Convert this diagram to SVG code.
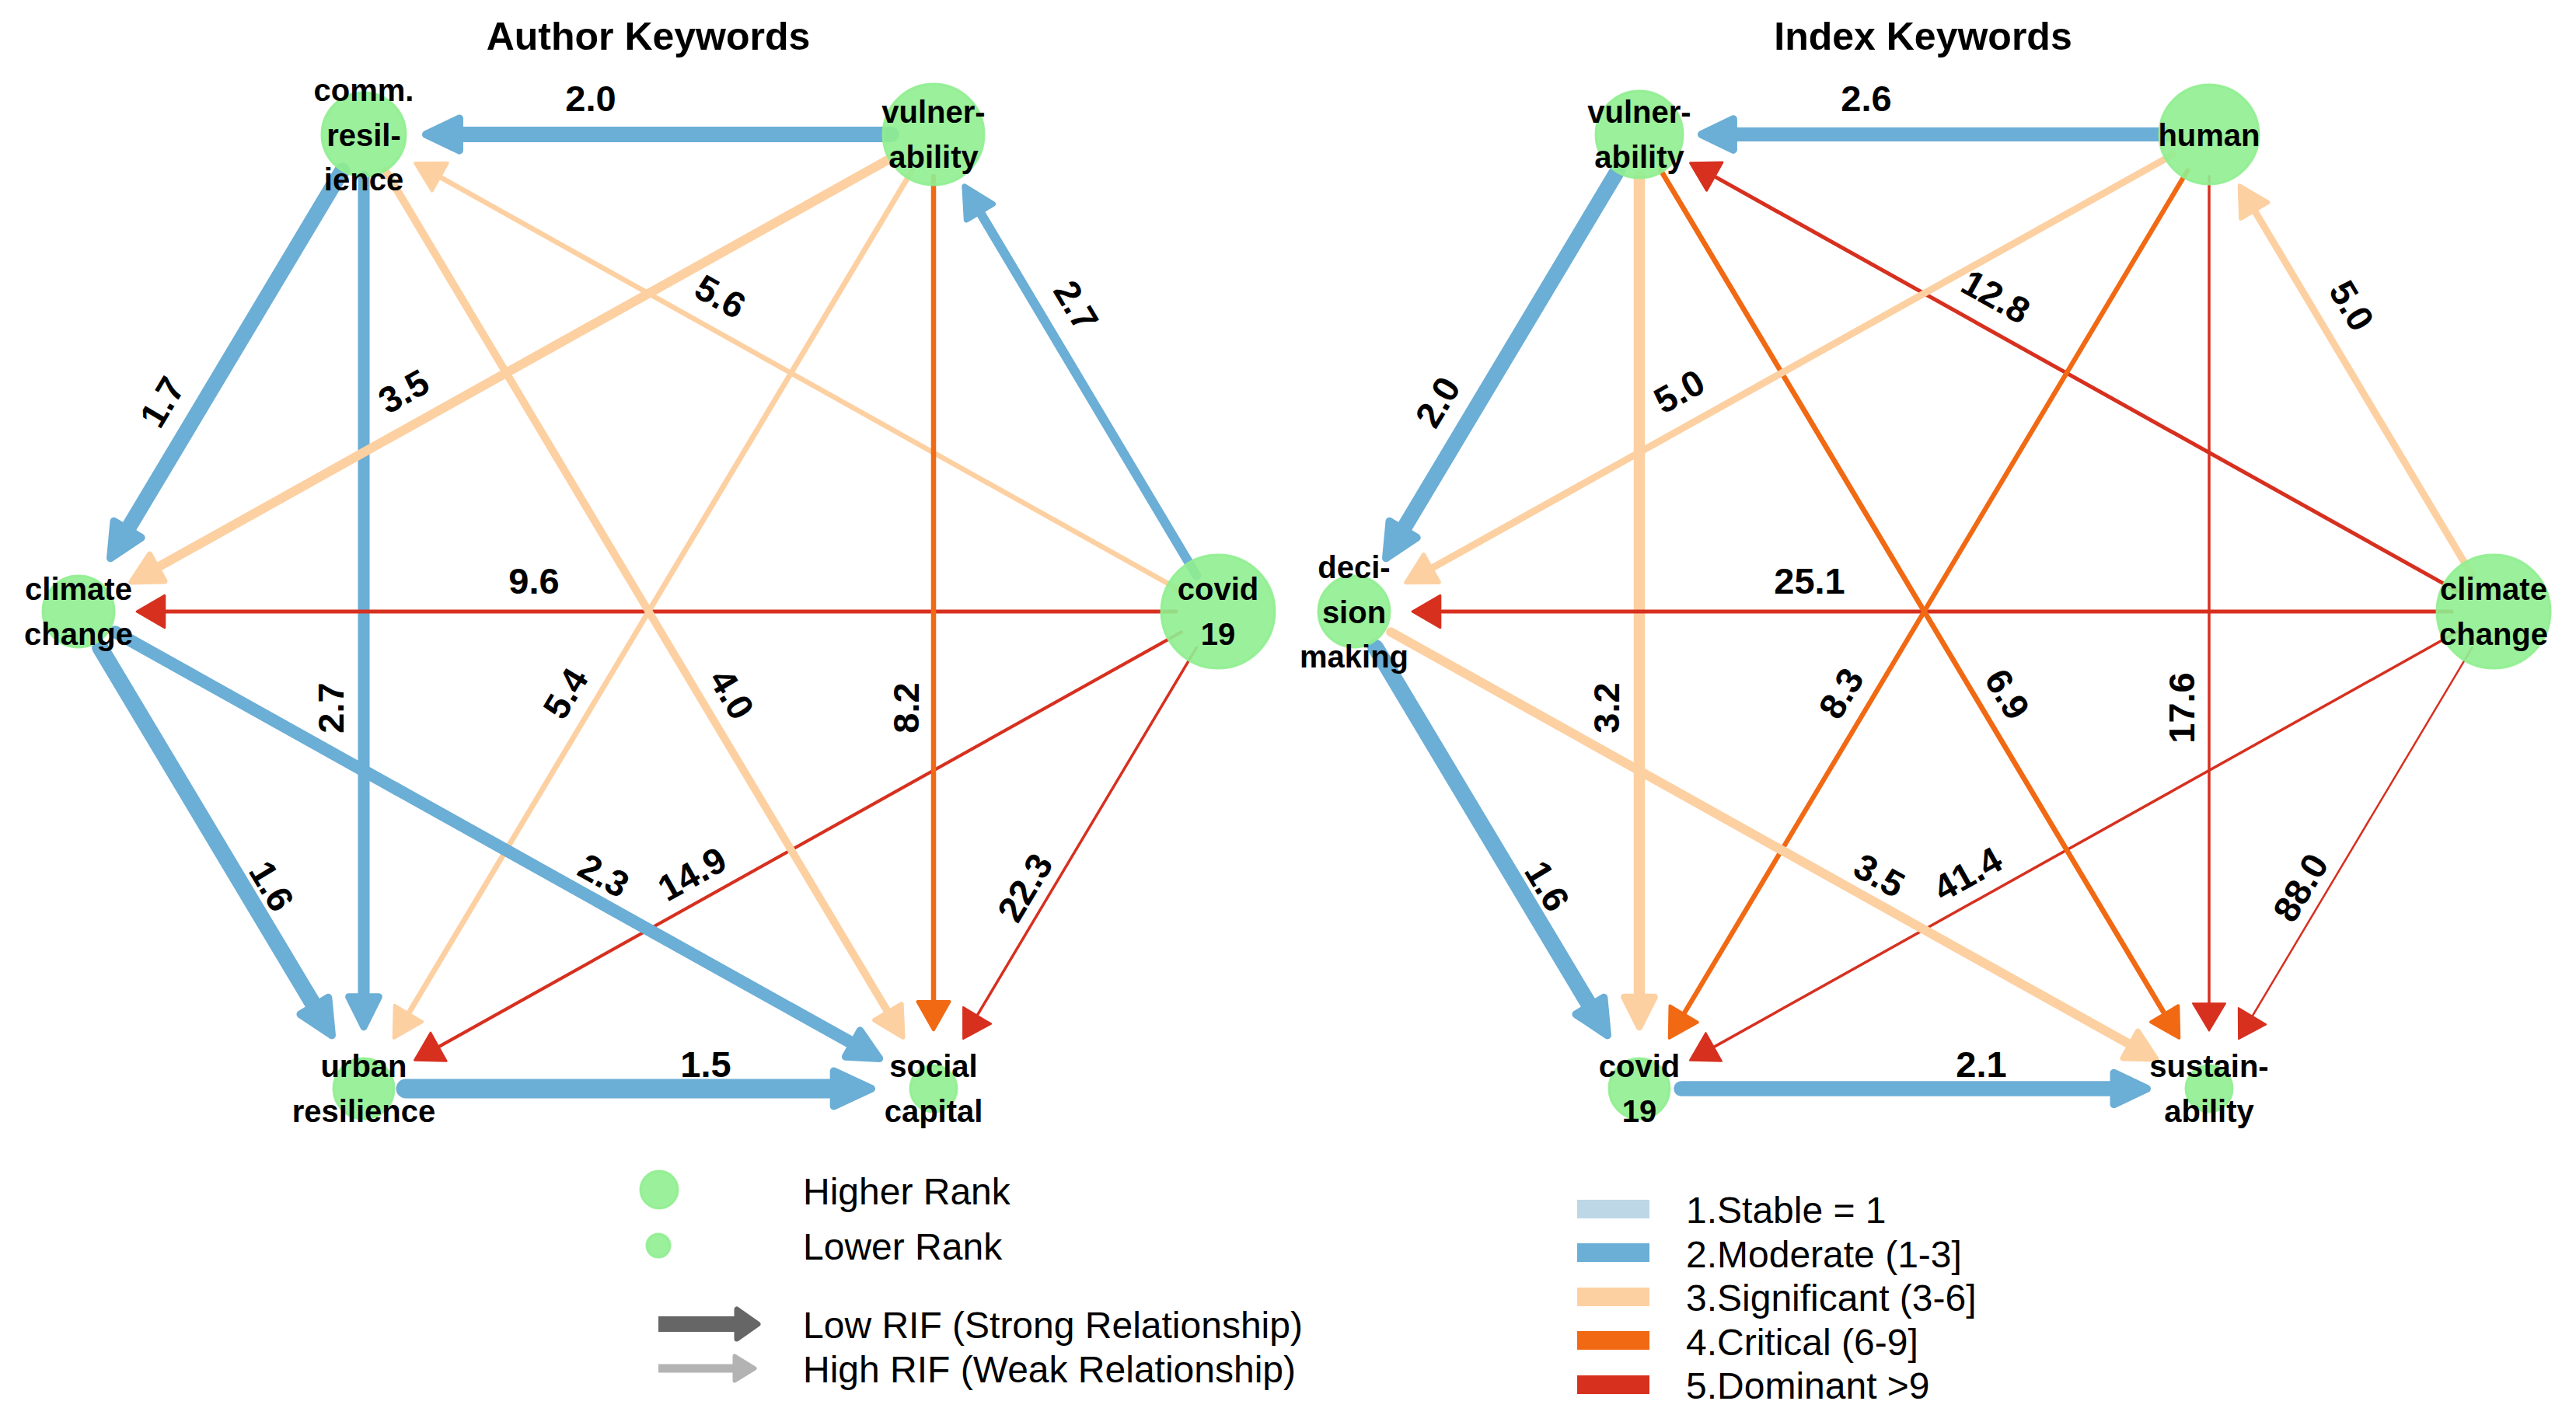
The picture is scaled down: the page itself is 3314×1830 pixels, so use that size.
<svg xmlns="http://www.w3.org/2000/svg" width="3314" height="1830" viewBox="0 0 3314 1830">
<style>
.title{font-family:"Liberation Sans",Arial,sans-serif;font-weight:bold;font-size:50px;text-anchor:middle;fill:#000}
.nl{font-family:"Liberation Sans",Arial,sans-serif;font-weight:bold;font-size:40px;text-anchor:middle;fill:#000}
.el{font-family:"Liberation Sans",Arial,sans-serif;font-weight:bold;font-size:47px;text-anchor:middle;fill:#000}
.lg{font-family:"Liberation Sans",Arial,sans-serif;font-size:48px;fill:#000}
.node{fill:#90EE90;fill-opacity:0.9;stroke:#90EE90;stroke-opacity:0.9;stroke-width:3}
.e line{fill:none;stroke-linecap:round}
.e path{stroke-linejoin:round}
.b line{stroke:#6BAED6}.b path{fill:#6BAED6;stroke:#6BAED6}
.p line{stroke:#FDD0A2}.p path{fill:#FDD0A2;stroke:#FDD0A2}
.o line{stroke:#F16913}.o path{fill:#F16913;stroke:#F16913}
.r line{stroke:#D7301F}.r path{fill:#D7301F;stroke:#D7301F}
</style>
<rect x="0" y="0" width="3314" height="1830" fill="#fff"/>

<!-- ============ LEFT PANEL: Author Keywords ============ -->
<g id="panel-author">
<text class="title" x="834" y="64">Author Keywords</text>
<g id="connectors-author">
<g class="e b" transform="translate(1201,173) rotate(180)"><line x1="54" y1="0" x2="612" y2="0" stroke-width="20"/><path transform="translate(660,0)" d="M-7,0 L-50,-20.5 L-50,20.5 Z" stroke-width="10"/></g>
<g class="e b" transform="translate(468,173) rotate(120.87)"><line x1="54" y1="0" x2="594" y2="0" stroke-width="20"/><path transform="translate(642.3,0)" d="M-7,0 L-50,-20.5 L-50,20.5 Z" stroke-width="10"/></g>
<g class="e p" transform="translate(1567,787) rotate(-150.81)"><line x1="54" y1="0" x2="1149" y2="0" stroke-width="6.5"/><path transform="translate(1185.9,0)" d="M-2.8,0 L-39,-20.5 L-39,20.5 Z" stroke-width="4"/></g>
<g class="e b" transform="translate(468,173) rotate(90)"><line x1="54" y1="0" x2="1112" y2="0" stroke-width="15"/><path transform="translate(1155,0)" d="M-6.3,0 L-45.3,-19.4 L-45.3,19.4 Z" stroke-width="9"/></g>
<g class="e r" transform="translate(1567,787) rotate(180)"><line x1="54" y1="0" x2="1357" y2="0" stroke-width="5"/><path transform="translate(1393,0)" d="M-2.1,0 L-37.8,-20.8 L-37.8,20.8 Z" stroke-width="3"/></g>
<g class="e r" transform="translate(1567,787) rotate(150.81)"><line x1="54" y1="0" x2="1151" y2="0" stroke-width="4.2"/><path transform="translate(1185.9,0)" d="M-1.8,0 L-37.2,-21 L-37.2,21 Z" stroke-width="2.5"/></g>
<g class="e r" transform="translate(1567,787) rotate(120.80)"><line x1="54" y1="0" x2="607" y2="0" stroke-width="3.5"/><path transform="translate(641.8,0)" d="M-1.5,0 L-36.7,-21 L-36.7,21 Z" stroke-width="2.1"/></g>
<g class="e o" transform="translate(1201,173) rotate(90)"><line x1="54" y1="0" x2="1118" y2="0" stroke-width="6.5"/><path transform="translate(1155,0)" d="M-2.8,0 L-39,-20.5 L-39,20.5 Z" stroke-width="4"/></g>
<g class="e p" transform="translate(1201,173) rotate(120.84)"><line x1="54" y1="0" x2="1320" y2="0" stroke-width="7"/><path transform="translate(1357.1,0)" d="M-2.9,0 L-39.3,-20.5 L-39.3,20.5 Z" stroke-width="4.2"/></g>
<g class="e p" transform="translate(468,173) rotate(59.16)"><line x1="54" y1="0" x2="1318" y2="0" stroke-width="10"/><path transform="translate(1357.1,0)" d="M-4.2,0 L-41.5,-20.1 L-41.5,20.1 Z" stroke-width="6"/></g>
<g class="e p" transform="translate(1201,173) rotate(150.83)"><line x1="54" y1="0" x2="1146" y2="0" stroke-width="12"/><path transform="translate(1186.8,0)" d="M-5,0 L-43,-19.8 L-43,19.8 Z" stroke-width="7.2"/></g>
<g class="e b" transform="translate(1567,787) rotate(-120.80)"><line x1="54" y1="0" x2="601" y2="0" stroke-width="12"/><path transform="translate(641.8,0)" d="M-5,0 L-43,-19.8 L-43,19.8 Z" stroke-width="7.2"/></g>
<g class="e b" transform="translate(101,787) rotate(59.13)"><line x1="54" y1="0" x2="593" y2="0" stroke-width="21"/><path transform="translate(642.3,0)" d="M-7,0 L-51,-20.9 L-51,20.9 Z" stroke-width="10"/></g>
<g class="e b" transform="translate(101,787) rotate(29.17)"><line x1="54" y1="0" x2="1143" y2="0" stroke-width="16"/><path transform="translate(1186.8,0)" d="M-6.7,0 L-46,-19.3 L-46,19.3 Z" stroke-width="9.6"/></g>
<g class="e b" transform="translate(468,1401)"><line x1="54" y1="0" x2="607" y2="0" stroke-width="25"/><path transform="translate(660,0)" d="M-7,0 L-55.3,-22.5 L-55.3,22.5 Z" stroke-width="10"/></g>
</g>
<g id="edge-labels-author">
<text class="el" transform="translate(760,126)" y="17">2.0</text>
<text class="el" transform="translate(208,517) rotate(-59.1)" y="17">1.7</text>
<text class="el" transform="translate(519,503) rotate(-29.2)" y="17">3.5</text>
<text class="el" transform="translate(927,381) rotate(29.2)" y="17">5.6</text>
<text class="el" transform="translate(1385,393) rotate(59.2)" y="17">2.7</text>
<text class="el" transform="translate(687,747)" y="17">9.6</text>
<text class="el" transform="translate(425,911) rotate(-90)" y="17">2.7</text>
<text class="el" transform="translate(727,892) rotate(-59.2)" y="17">5.4</text>
<text class="el" transform="translate(942,893) rotate(59.2)" y="17">4.0</text>
<text class="el" transform="translate(1165,911) rotate(-90)" y="17">8.2</text>
<text class="el" transform="translate(350,1140) rotate(59.1)" y="17">1.6</text>
<text class="el" transform="translate(777,1126) rotate(29.2)" y="17">2.3</text>
<text class="el" transform="translate(890,1124) rotate(-29.2)" y="17">14.9</text>
<text class="el" transform="translate(1318,1142) rotate(-59.2)" y="17">22.3</text>
<text class="el" transform="translate(908,1369)" y="17">1.5</text>
</g>
<g id="a-comm-resilience"><circle class="node" cx="468" cy="173" r="54"/><text class="nl" x="468" y="130">comm.</text><text class="nl" x="468" y="188">resil-</text><text class="nl" x="468" y="245">ience</text></g>
<g id="a-vulnerability"><circle class="node" cx="1201" cy="173" r="65"/><text class="nl" x="1201" y="158">vulner-</text><text class="nl" x="1201" y="216">ability</text></g>
<g id="a-covid-19"><circle class="node" cx="1567" cy="787" r="73"/><text class="nl" x="1567" y="772">covid</text><text class="nl" x="1567" y="830">19</text></g>
<g id="a-social-capital"><circle class="node" cx="1201" cy="1401" r="30"/><text class="nl" x="1201" y="1386">social</text><text class="nl" x="1201" y="1444">capital</text></g>
<g id="a-urban-resilience"><circle class="node" cx="468" cy="1401" r="39"/><text class="nl" x="468" y="1386">urban</text><text class="nl" x="468" y="1444">resilience</text></g>
<g id="a-climate-change"><circle class="node" cx="101" cy="787" r="46"/><text class="nl" x="101" y="772">climate</text><text class="nl" x="101" y="830">change</text></g>
</g>

<!-- ============ RIGHT PANEL: Index Keywords ============ -->
<g id="panel-index" transform="translate(1641,0)">
<text class="title" x="833" y="64">Index Keywords</text>
<g id="connectors-index">
<g class="e b" transform="translate(1201,173) rotate(180)"><line x1="54" y1="0" x2="614" y2="0" stroke-width="18"/><path transform="translate(660,0)" d="M-7,0 L-47.9,-19.7 L-47.9,19.7 Z" stroke-width="10"/></g>
<g class="e b" transform="translate(468,173) rotate(120.87)"><line x1="54" y1="0" x2="594" y2="0" stroke-width="20"/><path transform="translate(642.3,0)" d="M-7,0 L-50,-20.5 L-50,20.5 Z" stroke-width="10"/></g>
<g class="e r" transform="translate(1567,787) rotate(-150.81)"><line x1="54" y1="0" x2="1150" y2="0" stroke-width="5"/><path transform="translate(1185.9,0)" d="M-2.1,0 L-37.8,-20.8 L-37.8,20.8 Z" stroke-width="3"/></g>
<g class="e p" transform="translate(468,173) rotate(90)"><line x1="54" y1="0" x2="1112" y2="0" stroke-width="14.5"/><path transform="translate(1155,0)" d="M-6.1,0 L-44.9,-19.5 L-44.9,19.5 Z" stroke-width="8.7"/></g>
<g class="e r" transform="translate(1567,787) rotate(180)"><line x1="54" y1="0" x2="1357" y2="0" stroke-width="5"/><path transform="translate(1393,0)" d="M-2.1,0 L-37.8,-20.8 L-37.8,20.8 Z" stroke-width="3"/></g>
<g class="e r" transform="translate(1567,787) rotate(150.81)"><line x1="54" y1="0" x2="1151" y2="0" stroke-width="3.5"/><path transform="translate(1185.9,0)" d="M-1.5,0 L-36.7,-21 L-36.7,21 Z" stroke-width="2.1"/></g>
<g class="e r" transform="translate(1567,787) rotate(120.80)"><line x1="54" y1="0" x2="608" y2="0" stroke-width="2.5"/><path transform="translate(641.8,0)" d="M-1.4,0 L-35.6,-20.7 L-35.6,20.7 Z" stroke-width="2"/></g>
<g class="e r" transform="translate(1201,173) rotate(90)"><line x1="54" y1="0" x2="1120" y2="0" stroke-width="3.5"/><path transform="translate(1155,0)" d="M-1.5,0 L-36.7,-21 L-36.7,21 Z" stroke-width="2.1"/></g>
<g class="e o" transform="translate(1201,173) rotate(120.84)"><line x1="54" y1="0" x2="1320" y2="0" stroke-width="6.2"/><path transform="translate(1357.1,0)" d="M-2.6,0 L-38.7,-20.7 L-38.7,20.7 Z" stroke-width="3.7"/></g>
<g class="e o" transform="translate(468,173) rotate(59.16)"><line x1="54" y1="0" x2="1320" y2="0" stroke-width="6.7"/><path transform="translate(1357.1,0)" d="M-2.8,0 L-39,-20.5 L-39,20.5 Z" stroke-width="4"/></g>
<g class="e p" transform="translate(1201,173) rotate(150.83)"><line x1="54" y1="0" x2="1148" y2="0" stroke-width="9"/><path transform="translate(1186.8,0)" d="M-3.8,0 L-40.8,-20.2 L-40.8,20.2 Z" stroke-width="5.4"/></g>
<g class="e p" transform="translate(1567,787) rotate(-120.80)"><line x1="54" y1="0" x2="603" y2="0" stroke-width="9"/><path transform="translate(641.8,0)" d="M-3.8,0 L-40.8,-20.2 L-40.8,20.2 Z" stroke-width="5.4"/></g>
<g class="e b" transform="translate(101,787) rotate(59.13)"><line x1="54" y1="0" x2="593" y2="0" stroke-width="21"/><path transform="translate(642.3,0)" d="M-7,0 L-51,-20.9 L-51,20.9 Z" stroke-width="10"/></g>
<g class="e p" transform="translate(101,787) rotate(29.17)"><line x1="54" y1="0" x2="1146" y2="0" stroke-width="12"/><path transform="translate(1186.8,0)" d="M-5,0 L-43,-19.8 L-43,19.8 Z" stroke-width="7.2"/></g>
<g class="e b" transform="translate(468,1401)"><line x1="54" y1="0" x2="612" y2="0" stroke-width="19.5"/><path transform="translate(660,0)" d="M-7,0 L-49.5,-20.3 L-49.5,20.3 Z" stroke-width="10"/></g>
</g>
<g id="edge-labels-index">
<text class="el" transform="translate(760,126)" y="17">2.6</text>
<text class="el" transform="translate(208,517) rotate(-59.1)" y="17">2.0</text>
<text class="el" transform="translate(519,503) rotate(-29.2)" y="17">5.0</text>
<text class="el" transform="translate(927,381) rotate(29.2)" y="17">12.8</text>
<text class="el" transform="translate(1385,393) rotate(59.2)" y="17">5.0</text>
<text class="el" transform="translate(687,747)" y="17">25.1</text>
<text class="el" transform="translate(425,911) rotate(-90)" y="17">3.2</text>
<text class="el" transform="translate(727,892) rotate(-59.2)" y="17">8.3</text>
<text class="el" transform="translate(942,893) rotate(59.2)" y="17">6.9</text>
<text class="el" transform="translate(1165,911) rotate(-90)" y="17">17.6</text>
<text class="el" transform="translate(350,1140) rotate(59.1)" y="17">1.6</text>
<text class="el" transform="translate(777,1126) rotate(29.2)" y="17">3.5</text>
<text class="el" transform="translate(890,1124) rotate(-29.2)" y="17">41.4</text>
<text class="el" transform="translate(1318,1142) rotate(-59.2)" y="17">88.0</text>
<text class="el" transform="translate(908,1369)" y="17">2.1</text>
</g>
<g id="i-vulnerability"><circle class="node" cx="468" cy="173" r="56"/><text class="nl" x="468" y="158">vulner-</text><text class="nl" x="468" y="216">ability</text></g>
<g id="i-human"><circle class="node" cx="1201" cy="173" r="64"/><text class="nl" x="1201" y="188">human</text></g>
<g id="i-climate-change"><circle class="node" cx="1567" cy="787" r="73"/><text class="nl" x="1567" y="772">climate</text><text class="nl" x="1567" y="830">change</text></g>
<g id="i-sustainability"><circle class="node" cx="1201" cy="1401" r="30"/><text class="nl" x="1201" y="1386">sustain-</text><text class="nl" x="1201" y="1444">ability</text></g>
<g id="i-covid-19"><circle class="node" cx="468" cy="1401" r="39"/><text class="nl" x="468" y="1386">covid</text><text class="nl" x="468" y="1444">19</text></g>
<g id="i-decision-making"><circle class="node" cx="101" cy="787" r="46"/><text class="nl" x="101" y="744">deci-</text><text class="nl" x="101" y="802">sion</text><text class="nl" x="101" y="859">making</text></g>
</g>

<!-- ============ LEGENDS ============ -->
<g id="legend-rank-rif">
<circle class="node" cx="848" cy="1531" r="24"/>
<text class="lg" x="1033" y="1550">Higher Rank</text>
<circle class="node" cx="847" cy="1603" r="15"/>
<text class="lg" x="1033" y="1621">Lower Rank</text>
<line x1="847" y1="1704" x2="952" y2="1704" stroke="#666666" stroke-width="20"/>
<path d="M975,1704 L948,1685 L948,1723 Z" fill="#666666" stroke="#666666" stroke-width="7" stroke-linejoin="round"/>
<text class="lg" x="1033" y="1722">Low RIF (Strong Relationship)</text>
<line x1="847" y1="1761" x2="947" y2="1761" stroke="#B3B3B3" stroke-width="11"/>
<path d="M971,1761 L945,1745 L945,1777 Z" fill="#B3B3B3" stroke="#B3B3B3" stroke-width="5" stroke-linejoin="round"/>
<text class="lg" x="1033" y="1779">High RIF (Weak Relationship)</text>
</g>
<g id="legend-category">
<rect x="2029" y="1544" width="93" height="24" fill="#BDD7E7"/>
<text class="lg" x="2169" y="1574">1.Stable = 1</text>
<rect x="2029" y="1600" width="93" height="24" fill="#6BAED6"/>
<text class="lg" x="2169" y="1631">2.Moderate (1-3]</text>
<rect x="2029" y="1657" width="93" height="24" fill="#FDD0A2"/>
<text class="lg" x="2169" y="1687">3.Significant (3-6]</text>
<rect x="2029" y="1713" width="93" height="24" fill="#F16913"/>
<text class="lg" x="2169" y="1744">4.Critical (6-9]</text>
<rect x="2029" y="1770" width="93" height="24" fill="#D7301F"/>
<text class="lg" x="2169" y="1800">5.Dominant &gt;9</text>
</g>
</svg>
